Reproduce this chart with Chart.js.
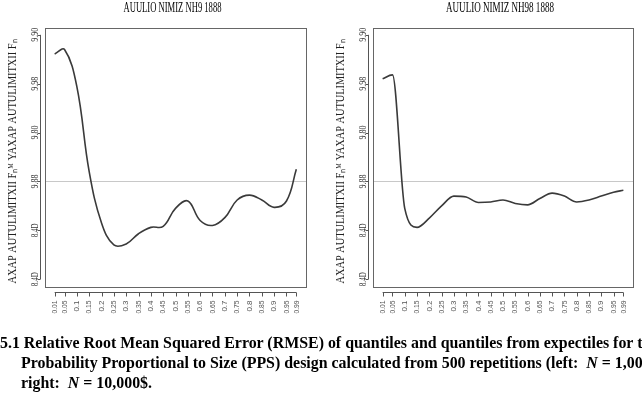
<!DOCTYPE html>
<html>
<head>
<meta charset="utf-8">
<script src="https://cdn.jsdelivr.net/npm/chart.js@4/dist/chart.umd.min.js"></script>
<style>
  html, body { margin: 0; padding: 0; background: #fff; }
  body { width: 642px; height: 414px; position: relative; overflow: hidden; }
  .panel { position: absolute; top: 0; width: 321px; height: 330px; }
  #capt { position: absolute; left: 0; top: 0; width: 642px; height: 414px; pointer-events: none; }
  .ln { position: absolute; white-space: nowrap; font: bold 16px "Liberation Serif", serif; color: #000; transform-origin: 0 0; }
</style>
</head>
<body>
<div class="panel" style="left:0"><canvas id="cL" width="321" height="330"></canvas></div>
<div class="panel" style="left:321px"><canvas id="cR" width="321" height="330"></canvas></div>
<div id="capt">
  <div class="ln" id="l1" style="left:0;top:334px">5.1 Relative Root Mean Squared Error (RMSE) of quantiles and quantiles from expectiles for the</div>
  <div class="ln" id="l2" style="left:21px;top:354px">Probability Proportional to Size (PPS) design calculated from 500 repetitions (left:&nbsp;&nbsp;<i>N</i> = 1,000;</div>
  <div class="ln" id="l3" style="left:21px;top:374px">right:&nbsp;&nbsp;<i>N</i> = 10,000$.</div>
</div>
<script>
// ---- data ----
const quantiles = [0.01,0.05,0.10,0.15,0.20,0.25,0.30,0.35,0.40,0.45,0.50,0.55,0.60,0.65,0.70,0.75,0.80,0.85,0.90,0.95,0.99];
const xTickLabels = ['0.01','0.05','0.1','0.15','0.2','0.25','0.3','0.35','0.4','0.45','0.5','0.55','0.6','0.65','0.7','0.75','0.8','0.85','0.9','0.95','0.99'];
const yTickValues = [0,1,2,3,4,5];
const yTickLabels = ['8.4D','8.4D','9.88','9.80','9.98','9.90'];
const refLevel = 2;
const rmseLeft  = [4.61,4.70,3.94,2.20,1.15,0.70,0.72,0.93,1.06,1.08,1.45,1.60,1.20,1.10,1.26,1.62,1.72,1.62,1.47,1.60,2.25];
const rmseRight = [4.10,4.18,1.45,1.06,1.25,1.50,1.70,1.68,1.57,1.58,1.62,1.55,1.52,1.65,1.76,1.70,1.58,1.62,1.70,1.78,1.82];
const titleLeft  = 'AUULIO NIMIZ NH9 1888';
const titleRight = 'AUULIO NIMIZ NH98 1888';
const yAxisTitle = 'AXAP AUTULIMITXII F\u2099\u1D39 YAXAP AUTULIMITXII F\u2099';

function rAxesPlugin(title) {
  return {
    id: 'rAxes',
    beforeDatasetsDraw(chart) {
      const {ctx, chartArea: a, scales: {x, y}} = chart;
      const yy = Math.round(y.getPixelForValue(refLevel)) + 0.5;
      ctx.save();
      ctx.strokeStyle = '#c8c8c8';
      ctx.lineWidth = 1;
      ctx.beginPath(); ctx.moveTo(a.left, yy); ctx.lineTo(a.right, yy); ctx.stroke();
      ctx.restore();
    },
    afterDraw(chart) {
      const {ctx, chartArea: a, scales: {x, y}} = chart;
      ctx.save();
      // box
      ctx.strokeStyle = '#666';
      ctx.lineWidth = 1;
      ctx.strokeRect(Math.round(a.left) + 0.5, Math.round(a.top) + 0.5, Math.round(a.right - a.left), Math.round(a.bottom - a.top));
      // x axis
      const xa = Math.round(a.bottom) + 5.5;
      ctx.strokeStyle = '#555';
      ctx.beginPath();
      ctx.moveTo(x.getPixelForValue(quantiles[0]), xa);
      ctx.lineTo(x.getPixelForValue(quantiles[quantiles.length - 1]), xa);
      quantiles.forEach(q => {
        const px = Math.round(x.getPixelForValue(q)) + 0.5;
        ctx.moveTo(px, xa); ctx.lineTo(px, xa + 4);
      });
      ctx.stroke();
      ctx.fillStyle = '#555';
      ctx.font = '8px "Liberation Sans", sans-serif';
      ctx.textAlign = 'right';
      ctx.textBaseline = 'middle';
      quantiles.forEach((q, i) => {
        const px = x.getPixelForValue(q);
        ctx.save();
        ctx.translate(px, xa + 8);
        ctx.rotate(-Math.PI / 2);
        ctx.fillText(xTickLabels[i], 0, 0, 13);
        ctx.restore();
      });
      // y axis
      const ya = Math.round(a.left) - 4.5;
      ctx.beginPath();
      ctx.moveTo(ya, y.getPixelForValue(yTickValues[0]));
      ctx.lineTo(ya, y.getPixelForValue(yTickValues[yTickValues.length - 1]));
      yTickValues.forEach(v => {
        const py = Math.round(y.getPixelForValue(v)) + 0.5;
        ctx.moveTo(ya, py); ctx.lineTo(ya - 3, py);
      });
      ctx.stroke();
      ctx.fillStyle = '#333';
      ctx.font = '11px "Liberation Serif", serif';
      ctx.textAlign = 'center';
      ctx.textBaseline = 'middle';
      yTickValues.forEach((v, i) => {
        const py = y.getPixelForValue(v);
        ctx.save();
        ctx.translate(a.left - 10, py);
        ctx.rotate(-Math.PI / 2);
        ctx.fillText(yTickLabels[i], 0, 0, 14);
        ctx.restore();
      });
      // y axis title
      ctx.fillStyle = '#222';
      ctx.font = '13px "Liberation Serif", serif';
      ctx.save();
      ctx.translate(a.left - 32, (a.top + a.bottom) / 2 + 4);
      ctx.rotate(-Math.PI / 2);
      ctx.fillText(yAxisTitle, 0, 0, 244);
      ctx.restore();
      // main title
      ctx.fillStyle = '#000';
      ctx.font = '14px "Liberation Serif", serif';
      ctx.textBaseline = 'alphabetic';
      ctx.fillText(title, (a.left + a.right) / 2 - 3, 12, title.length > 21 ? 108 : 98);
      ctx.restore();
    }
  };
}

function makeChart(id, vals, title, pad, mode) {
  return new Chart(document.getElementById(id), {
    type: 'line',
    data: {
      datasets: [{
        data: quantiles.map((q, i) => ({x: q, y: vals[i]})),
        borderColor: '#3a3a3a',
        borderWidth: 1.6,
        pointRadius: 0,
        tension: 0.4,
        cubicInterpolationMode: mode,
        fill: false
      }]
    },
    options: {
      responsive: false,
      animation: false,
      devicePixelRatio: 1,
      layout: { padding: pad },
      plugins: { legend: { display: false }, tooltip: { enabled: false } },
      scales: {
        x: { type: 'linear', display: false, min: -0.0292, max: 1.0292 },
        y: { type: 'linear', display: false, min: -0.16, max: 5.14 }
      }
    },
    plugins: [rAxesPlugin(title)]
  });
}

makeChart('cL', rmseLeft, titleLeft, {left: 45, right: 15, top: 28, bottom: 43}, 'default');
makeChart('cR', rmseRight, titleRight, {left: 52, right: 9, top: 28, bottom: 43}, 'monotone');

// caption horizontal fit
(function () {
  const c = document.createElement('canvas').getContext('2d');
  c.font = 'bold 16px "Liberation Serif", serif';
  const w = c.measureText('5.1 Relative Root Mean Squared Error (RMSE) of quantiles and quantiles from expectiles for t').width;
  const s = 643 / w;
  ['l1', 'l2', 'l3'].forEach(id => { document.getElementById(id).style.transform = 'scaleX(' + s + ')'; });
})();
</script>
</body>
</html>
